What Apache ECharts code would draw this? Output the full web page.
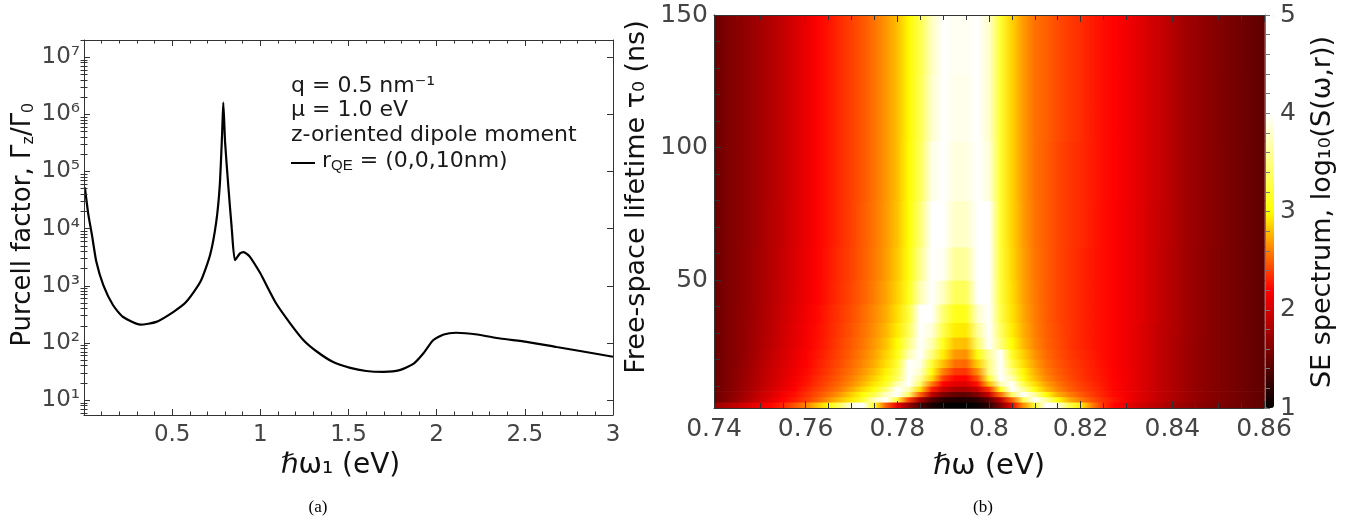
<!DOCTYPE html>
<html>
<head>
<meta charset="utf-8">
<script src="https://cdn.jsdelivr.net/npm/echarts@6/dist/echarts.min.js"></script>
<style>
  html, body { margin: 0; padding: 0; background: #fff; }
  #chart { width: 1362px; height: 521px; }
</style>
</head>
<body>
<div id="chart"></div>
<script>
// (a) Purcell factor vs emitter energy
const omega1 = [0.005, 0.025, 0.045, 0.07, 0.11, 0.165, 0.22, 0.32, 0.41, 0.51,
  0.58, 0.66, 0.715, 0.75, 0.77, 0.783, 0.79, 0.80, 0.818, 0.838,
  0.856, 0.885, 0.905, 0.94, 1.0, 1.02, 1.09, 1.17, 1.245, 1.32,
  1.41, 1.51, 1.60, 1.70, 1.79, 1.87, 1.925, 1.98, 2.04, 2.11,
  2.23, 2.36, 2.51, 2.68, 2.83, 3.0];
const purcell = [5.3e4, 1.74e4, 7800, 2630, 1020, 457, 288, 209, 234, 355,
  525, 1175, 3470, 1.32e4, 5.75e4, 4.4e5, 1.6e6, 3.3e5, 5.75e4, 1.0e4,
  2820, 3700, 3900, 3240, 1660, 1260, 490, 219, 112, 71,
  47, 36.7, 32.4, 31.3, 33.5, 43.6, 66, 112, 141, 151,
  141, 120, 105, 85, 71, 57.5];
const decadeTicks = [10, 100, 1e3, 1e4, 1e5, 1e6, 1e7];
const decadeLabels = ['10¹', '10²', '10³', '10⁴', '10⁵', '10⁶', '10⁷'];

// (b) SE spectrum map, log10 S(w, r); rows go from small to large tau0
const omega = [0.7400, 0.7425, 0.7450, 0.7475, 0.7500, 0.7525, 0.7550, 0.7575, 0.7600, 0.7625,
  0.7650, 0.7675, 0.7700, 0.7725, 0.7750, 0.7775, 0.7800, 0.7825, 0.7850, 0.7875,
  0.7900, 0.7925, 0.7950, 0.7975, 0.8000, 0.8025, 0.8050, 0.8075, 0.8100, 0.8125,
  0.8150, 0.8175, 0.8200, 0.8225, 0.8250, 0.8275, 0.8300, 0.8325, 0.8350, 0.8375,
  0.8400, 0.8425, 0.8450, 0.8475, 0.8500, 0.8525, 0.8550, 0.8575, 0.8600];
const tau = [3, 5, 7, 9, 11, 13, 15.5, 18.5, 22, 26, 31, 37, 45, 55, 70, 90, 115, 140];
const spectrum = [
  [1.72, 1.82, 1.92, 2.03, 2.13, 2.22, 2.32, 2.46, 2.60, 2.80, 3.02, 3.40, 3.90, 4.30, 3.10, 2.50, 2.10, 1.70, 1.35, 1.12, 1.02, 1.00, 1.00, 1.04, 1.20, 1.60, 2.10, 2.65, 3.20, 4.30, 3.90, 3.30, 2.95, 2.60, 2.35, 2.20, 2.10, 2.00, 1.92, 1.85, 1.78, 1.72, 1.67, 1.62, 1.58, 1.55, 1.52, 1.49, 1.46],
  [1.50, 1.61, 1.72, 1.84, 1.96, 2.08, 2.20, 2.28, 2.38, 2.50, 2.65, 2.80, 2.93, 3.20, 3.75, 4.30, 3.20, 2.40, 1.80, 1.40, 1.20, 1.15, 1.15, 1.22, 1.45, 1.90, 2.50, 3.30, 4.20, 3.60, 3.00, 2.75, 2.58, 2.45, 2.34, 2.25, 2.16, 2.06, 1.98, 1.90, 1.83, 1.76, 1.70, 1.65, 1.61, 1.57, 1.53, 1.49, 1.45],
  [1.50, 1.60, 1.70, 1.81, 1.93, 2.04, 2.16, 2.24, 2.34, 2.44, 2.55, 2.68, 2.85, 3.02, 3.30, 3.75, 4.30, 3.40, 2.50, 1.90, 1.60, 1.47, 1.45, 1.60, 1.95, 2.55, 3.40, 4.30, 3.60, 3.00, 2.75, 2.60, 2.48, 2.38, 2.30, 2.22, 2.15, 2.06, 1.98, 1.90, 1.83, 1.76, 1.70, 1.65, 1.61, 1.57, 1.53, 1.49, 1.45],
  [1.50, 1.59, 1.68, 1.78, 1.89, 2.00, 2.10, 2.20, 2.30, 2.39, 2.48, 2.58, 2.72, 2.88, 3.05, 3.45, 4.30, 3.70, 2.90, 2.30, 1.95, 1.82, 1.80, 1.95, 2.35, 3.10, 4.30, 3.60, 3.05, 2.78, 2.62, 2.50, 2.42, 2.35, 2.28, 2.21, 2.14, 2.06, 1.98, 1.90, 1.83, 1.76, 1.70, 1.65, 1.61, 1.57, 1.53, 1.49, 1.45],
  [1.50, 1.59, 1.67, 1.77, 1.87, 1.97, 2.07, 2.17, 2.26, 2.35, 2.44, 2.53, 2.64, 2.78, 2.93, 3.15, 3.70, 4.30, 3.40, 2.60, 2.20, 2.07, 2.05, 2.25, 2.80, 3.70, 4.30, 3.30, 2.90, 2.70, 2.57, 2.47, 2.40, 2.33, 2.27, 2.21, 2.14, 2.06, 1.98, 1.90, 1.83, 1.76, 1.70, 1.65, 1.61, 1.57, 1.53, 1.49, 1.45],
  [1.50, 1.58, 1.66, 1.76, 1.86, 1.96, 2.05, 2.15, 2.24, 2.33, 2.41, 2.50, 2.60, 2.72, 2.86, 3.03, 3.40, 4.30, 3.60, 2.90, 2.40, 2.22, 2.20, 2.45, 3.20, 4.30, 3.70, 3.05, 2.80, 2.63, 2.52, 2.44, 2.37, 2.31, 2.26, 2.20, 2.14, 2.06, 1.98, 1.90, 1.83, 1.76, 1.70, 1.65, 1.61, 1.57, 1.53, 1.49, 1.45],
  [1.50, 1.58, 1.66, 1.75, 1.85, 1.95, 2.04, 2.13, 2.22, 2.30, 2.38, 2.47, 2.56, 2.67, 2.80, 2.96, 3.30, 4.30, 3.80, 3.05, 2.60, 2.38, 2.36, 2.65, 3.50, 4.30, 3.50, 2.98, 2.75, 2.59, 2.49, 2.42, 2.36, 2.30, 2.25, 2.20, 2.14, 2.06, 1.98, 1.90, 1.83, 1.76, 1.70, 1.65, 1.61, 1.57, 1.53, 1.49, 1.45],
  [1.50, 1.58, 1.65, 1.74, 1.84, 1.93, 2.02, 2.11, 2.20, 2.28, 2.36, 2.44, 2.53, 2.63, 2.75, 2.90, 3.20, 4.30, 3.90, 3.20, 2.80, 2.55, 2.52, 2.85, 3.50, 4.30, 3.30, 2.90, 2.70, 2.56, 2.47, 2.40, 2.35, 2.29, 2.24, 2.19, 2.13, 2.06, 1.98, 1.90, 1.83, 1.76, 1.70, 1.65, 1.61, 1.57, 1.53, 1.49, 1.45],
  [1.50, 1.58, 1.65, 1.73, 1.82, 1.91, 2.00, 2.09, 2.18, 2.26, 2.34, 2.42, 2.50, 2.60, 2.71, 2.86, 3.08, 3.70, 4.30, 3.50, 2.95, 2.68, 2.65, 3.05, 3.60, 4.30, 3.15, 2.85, 2.66, 2.53, 2.45, 2.38, 2.33, 2.28, 2.23, 2.19, 2.13, 2.06, 1.98, 1.90, 1.83, 1.76, 1.70, 1.65, 1.61, 1.57, 1.53, 1.49, 1.45],
  [1.50, 1.58, 1.65, 1.72, 1.81, 1.89, 1.98, 2.07, 2.16, 2.24, 2.32, 2.40, 2.48, 2.57, 2.68, 2.81, 3.00, 3.50, 4.30, 3.70, 3.10, 2.82, 2.80, 3.40, 4.30, 3.50, 3.00, 2.78, 2.62, 2.51, 2.44, 2.37, 2.32, 2.27, 2.23, 2.19, 2.13, 2.06, 1.98, 1.90, 1.83, 1.76, 1.70, 1.65, 1.61, 1.57, 1.53, 1.49, 1.45],
  [1.50, 1.58, 1.65, 1.72, 1.80, 1.88, 1.97, 2.06, 2.15, 2.23, 2.31, 2.38, 2.46, 2.55, 2.65, 2.77, 2.94, 3.35, 4.30, 3.85, 3.30, 2.95, 2.93, 3.60, 4.30, 3.40, 2.95, 2.75, 2.60, 2.50, 2.43, 2.37, 2.32, 2.27, 2.23, 2.19, 2.13, 2.06, 1.98, 1.90, 1.84, 1.77, 1.71, 1.66, 1.61, 1.57, 1.53, 1.49, 1.45],
  [1.50, 1.58, 1.65, 1.71, 1.79, 1.87, 1.96, 2.05, 2.14, 2.22, 2.30, 2.37, 2.44, 2.53, 2.63, 2.74, 2.90, 3.25, 4.30, 4.00, 3.45, 3.10, 3.10, 3.80, 4.30, 3.30, 2.92, 2.73, 2.59, 2.49, 2.42, 2.37, 2.32, 2.27, 2.23, 2.19, 2.13, 2.07, 1.99, 1.91, 1.84, 1.77, 1.71, 1.66, 1.61, 1.57, 1.53, 1.49, 1.45],
  [1.50, 1.58, 1.64, 1.71, 1.78, 1.86, 1.94, 2.03, 2.12, 2.20, 2.28, 2.35, 2.42, 2.50, 2.60, 2.71, 2.86, 3.10, 3.70, 4.30, 3.75, 3.35, 3.35, 4.00, 4.30, 3.25, 2.90, 2.71, 2.58, 2.49, 2.42, 2.37, 2.32, 2.27, 2.23, 2.19, 2.13, 2.07, 1.99, 1.91, 1.84, 1.77, 1.71, 1.66, 1.61, 1.57, 1.53, 1.49, 1.45],
  [1.50, 1.58, 1.64, 1.71, 1.78, 1.85, 1.93, 2.02, 2.11, 2.19, 2.27, 2.34, 2.41, 2.49, 2.58, 2.69, 2.83, 3.05, 3.55, 4.30, 3.95, 3.60, 3.60, 4.10, 4.20, 3.22, 2.88, 2.70, 2.57, 2.49, 2.42, 2.37, 2.32, 2.27, 2.23, 2.19, 2.13, 2.07, 1.99, 1.91, 1.84, 1.77, 1.71, 1.66, 1.61, 1.57, 1.53, 1.49, 1.45],
  [1.50, 1.58, 1.64, 1.70, 1.77, 1.85, 1.92, 2.01, 2.10, 2.19, 2.26, 2.33, 2.40, 2.48, 2.57, 2.68, 2.81, 3.01, 3.45, 4.20, 4.10, 3.78, 3.78, 4.30, 4.00, 3.20, 2.87, 2.69, 2.56, 2.49, 2.42, 2.37, 2.33, 2.28, 2.23, 2.19, 2.13, 2.07, 1.99, 1.92, 1.85, 1.77, 1.72, 1.67, 1.62, 1.57, 1.53, 1.49, 1.45],
  [1.50, 1.58, 1.64, 1.70, 1.77, 1.84, 1.91, 2.00, 2.10, 2.19, 2.26, 2.33, 2.40, 2.47, 2.56, 2.67, 2.80, 2.99, 3.35, 3.90, 4.30, 3.88, 3.88, 4.30, 3.85, 3.20, 2.86, 2.68, 2.55, 2.49, 2.42, 2.37, 2.33, 2.28, 2.24, 2.20, 2.14, 2.08, 2.00, 1.93, 1.85, 1.77, 1.72, 1.67, 1.62, 1.57, 1.53, 1.49, 1.45],
  [1.50, 1.58, 1.64, 1.70, 1.77, 1.84, 1.91, 2.00, 2.10, 2.19, 2.26, 2.33, 2.40, 2.47, 2.56, 2.67, 2.80, 2.98, 3.32, 3.80, 4.30, 3.92, 3.92, 4.30, 3.80, 3.20, 2.86, 2.68, 2.55, 2.50, 2.43, 2.38, 2.34, 2.28, 2.24, 2.20, 2.14, 2.08, 2.00, 1.93, 1.85, 1.77, 1.72, 1.67, 1.62, 1.57, 1.53, 1.49, 1.45],
  [1.50, 1.58, 1.64, 1.70, 1.77, 1.84, 1.91, 2.00, 2.10, 2.19, 2.26, 2.33, 2.40, 2.47, 2.56, 2.67, 2.80, 2.98, 3.30, 3.75, 4.30, 3.95, 3.95, 4.30, 3.80, 3.20, 2.86, 2.68, 2.55, 2.50, 2.43, 2.38, 2.34, 2.28, 2.24, 2.20, 2.14, 2.08, 2.00, 1.93, 1.85, 1.77, 1.72, 1.67, 1.62, 1.57, 1.53, 1.49, 1.45]
];
const tauTicks = [50, 100, 150];
const tauMinorTicks = [10, 20, 30, 40, 60, 70, 80, 90, 110, 120, 130, 140];

// colour map, black -> red -> yellow -> white, stops every 0.2 from 1 to 5
const hotColors = ['#000000', '#2b0000', '#550000', '#800000', '#aa0000', '#d50000',
  '#ff0000', '#ff4000', '#ff8000', '#ffbf00', '#ffff00', '#ffff33', '#ffff66',
  '#ffff99', '#ffffcc', '#ffffff', '#ffffff', '#ffffff', '#ffffff', '#ffffff', '#ffffff'];

const X_MIN = 0.74, X_MAX = 0.86, T_MIN = 1.7, T_MAX = 150;

// row borders halfway between sampled lifetimes, clamped to the axis range
const borders = (c, lo, hi) => c.map((v, k) => k === 0 ? lo : (c[k - 1] + v) / 2).concat([hi]);
const tauEdges = borders(tau, T_MIN, T_MAX);

const cells = [];
tau.forEach((t, j) => omega.forEach((w, i) => cells.push([w, t, spectrum[j][i]])));

// minor ticks at 2..9 of each decade
const logMinor = [];
for (let d = 1; d <= 1e6; d *= 10) for (let k = 2; k <= 9; k++) logMinor.push(k * d);
logMinor.push(2e7);

const frame = '#333';
const font = 'DejaVu Sans';
const tick = (len, extra) => Object.assign({ show: true, inside: true, length: len, lineStyle: { color: frame, width: 1 } }, extra || {});
const line = { show: true, onZero: false, lineStyle: { color: frame, width: 1 } };
const noLabel = { show: false };
const noSplit = { show: false };

const chart = echarts.init(document.getElementById('chart'));

chart.setOption({
  animation: false,
  textStyle: { fontFamily: font },
  grid: [
    { left: 84, top: 40, width: 529, height: 375 },
    { left: 714, top: 15, width: 550, height: 393 },
    { left: 1265, top: 15, width: 9, height: 393, show: false }
  ],
  xAxis: [
    { gridIndex: 0, type: 'value', min: 0, max: 3, interval: 0.5, position: 'bottom', z: 5,
      axisLine: line, axisTick: tick(6),
      minorTick: { show: true, splitNumber: 5, length: 3.5, lineStyle: { color: frame } },
      axisLabel: { showMinLabel: false, fontSize: 23, color: '#444', margin: 9 },
      splitLine: noSplit,
      name: 'ℏω₁ (eV)', nameLocation: 'middle', nameGap: 37,
      nameTextStyle: { fontSize: 28, color: '#111', padding: [0, 16, 0, 0] } },
    { gridIndex: 0, type: 'value', min: 0, max: 3, interval: 0.5, position: 'top', z: 5,
      axisLine: line, axisTick: tick(6),
      minorTick: { show: true, splitNumber: 5, length: 3.5, lineStyle: { color: frame } },
      axisLabel: noLabel, splitLine: noSplit },
    { gridIndex: 1, type: 'value', min: X_MIN, max: X_MAX, interval: 0.02, position: 'bottom', z: 5,
      axisLine: line, axisTick: tick(7),
      minorTick: { show: true, splitNumber: 4, length: 5, lineStyle: { color: frame } },
      axisLabel: { fontSize: 25, color: '#444', margin: 9 },
      splitLine: noSplit,
      name: 'ℏω (eV)', nameLocation: 'middle', nameGap: 44,
      nameTextStyle: { fontSize: 29, color: '#111' } },
    { gridIndex: 1, type: 'value', min: X_MIN, max: X_MAX, interval: 0.02, position: 'top', z: 5,
      axisLine: line, axisTick: tick(7),
      minorTick: { show: true, splitNumber: 4, length: 5, lineStyle: { color: frame } },
      axisLabel: noLabel, splitLine: noSplit },
    { gridIndex: 2, type: 'value', min: 0, max: 1, show: false }
  ],
  yAxis: [
    { gridIndex: 0, type: 'log', min: 5.5, max: 2e7, position: 'left', z: 5,
      axisLine: line, axisTick: tick(6, { customValues: decadeTicks }),
      axisLabel: { customValues: decadeTicks, fontSize: 23, color: '#444', margin: 4,
        formatter: v => decadeLabels[Math.round(Math.log10(v)) - 1] },
      splitLine: noSplit },
    { gridIndex: 0, type: 'log', min: 5.5, max: 2e7, position: 'left', z: 5,
      axisLine: { show: false }, axisTick: tick(3.5, { customValues: logMinor }),
      axisLabel: noLabel, splitLine: noSplit },
    { gridIndex: 0, type: 'log', min: 5.5, max: 2e7, position: 'right', z: 5,
      axisLine: line, axisTick: tick(6, { customValues: decadeTicks }),
      axisLabel: noLabel, splitLine: noSplit },
    { gridIndex: 0, type: 'log', min: 5.5, max: 2e7, position: 'right', z: 5,
      axisLine: { show: false }, axisTick: tick(3.5, { customValues: logMinor }),
      axisLabel: noLabel, splitLine: noSplit },
    { gridIndex: 1, type: 'value', min: T_MIN, max: T_MAX, position: 'left', z: 5,
      axisLine: line, axisTick: tick(7, { customValues: tauTicks }),
      axisLabel: { customValues: tauTicks, fontSize: 25, color: '#444', margin: 6 },
      splitLine: noSplit },
    { gridIndex: 1, type: 'value', min: T_MIN, max: T_MAX, position: 'left', z: 5,
      axisLine: { show: false }, axisTick: tick(6, { customValues: tauMinorTicks }),
      axisLabel: noLabel, splitLine: noSplit },
    { gridIndex: 2, type: 'value', min: 1, max: 5, interval: 1, position: 'right', z: 5,
      axisLine: { show: true, lineStyle: { color: '#777' } },
      axisTick: { show: true, inside: false, length: 5, lineStyle: { color: '#777' } },
      minorTick: { show: true, splitNumber: 5, length: 5, lineStyle: { color: '#777' } },
      axisLabel: { fontSize: 25, color: '#444', margin: 6 },
      splitLine: noSplit }
  ],
  visualMap: {
    type: 'continuous', seriesIndex: 1, dimension: 2, min: 1, max: 5,
    calculable: false, orient: 'vertical', left: 1265, top: 15,
    itemWidth: 9, itemHeight: 393, padding: 0, text: null,
    inRange: { color: hotColors }
  },
  series: [
    {
      name: 'purcell', type: 'line', xAxisIndex: 0, yAxisIndex: 0,
      data: omega1.map((w, k) => [w, purcell[k]]),
      showSymbol: false, smooth: 0.2,
      lineStyle: { color: '#000', width: 2.2 }
    },
    {
      name: 'spectrum', type: 'custom', xAxisIndex: 2, yAxisIndex: 4, z: 1,
      data: cells, encode: { x: 0, y: 1 }, silent: true,
      renderItem: (params, api) => {
        const idx = params.dataIndexInside;
        const i = params.dataIndex % omega.length;
        const j = Math.floor(params.dataIndex / omega.length);
        if (i === omega.length - 1) return null;
        // shade from this sample to the next one along the energy axis
        const p0 = api.coord([omega[i], tauEdges[j + 1]]);
        const p1 = api.coord([omega[i + 1], tauEdges[j]]);
        const c0 = api.visual('color');
        const c1 = api.visual('color', idx + 1);
        return {
          type: 'rect',
          shape: { x: p0[0], y: p0[1], width: p1[0] - p0[0] + 0.8, height: p1[1] - p0[1] + 0.6 },
          style: { fill: new echarts.graphic.LinearGradient(p0[0], 0, p1[0], 0, [
            { offset: 0, color: c0 }, { offset: 1, color: c1 }], true) }
        };
      }
    }
  ],
  graphic: [
    { type: 'text', x: 291, y: 86, style: { text: 'q = 0.5 nm⁻¹', fontSize: 22, fontFamily: font, fill: '#1a1a1a', verticalAlign: 'middle' } },
    { type: 'text', x: 291, y: 110, style: { text: 'μ = 1.0 eV', fontSize: 22, fontFamily: font, fill: '#1a1a1a', verticalAlign: 'middle' } },
    { type: 'text', x: 291, y: 135, style: { text: 'z-oriented dipole moment', fontSize: 22, fontFamily: font, fill: '#1a1a1a', verticalAlign: 'middle' } },
    { type: 'line', shape: { x1: 291, y1: 163, x2: 315, y2: 163 }, style: { stroke: '#000', lineWidth: 2 } },
    { type: 'text', x: 322, y: 161, style: { text: 'r{s|QE} = (0,0,10nm)', fontSize: 22, fontFamily: font, fill: '#1a1a1a', verticalAlign: 'middle',
      rich: { s: { fontSize: 15, padding: [10, 0, 0, 0] } } } },

    { type: 'text', x: 1037, y: 58, style: { text: 'ℏω₁ = 0.8 eV', fontSize: 21, fontFamily: font, fill: '#fff', verticalAlign: 'middle' } },
    { type: 'text', x: 1037, y: 84, style: { text: 'μ = 1.0 eV', fontSize: 21, fontFamily: font, fill: '#fff', verticalAlign: 'middle' } },
    { type: 'text', x: 1037, y: 111, style: { text: 'q = 0.5 nm⁻¹', fontSize: 21, fontFamily: font, fill: '#fff', verticalAlign: 'middle' } },
    { type: 'text', x: 1037, y: 138, style: { text: 'r{s|QE} = (0,0,10.0nm)', fontSize: 21, fontFamily: font, fill: '#fff', verticalAlign: 'middle',
      rich: { s: { fontSize: 14, padding: [9, 0, 0, 0] } } } },

    { type: 'text', x: 23, y: 225, rotation: Math.PI / 2,
      style: { text: 'Purcell factor, Γ{s|z}/Γ{s|0}', fontSize: 26, fontFamily: font, fill: '#111', align: 'center', verticalAlign: 'middle',
        rich: { s: { fontSize: 17, padding: [10, 0, 0, 0] } } } },
    { type: 'text', x: 637, y: 197, rotation: Math.PI / 2,
      style: { text: 'Free-space lifetime τ₀ (ns)', fontSize: 27, fontFamily: font, fill: '#111', align: 'center', verticalAlign: 'middle' } },
    { type: 'text', x: 1323, y: 212, rotation: Math.PI / 2,
      style: { text: 'SE spectrum, log₁₀(S(ω,r))', fontSize: 27, fontFamily: font, fill: '#111', align: 'center', verticalAlign: 'middle' } },

    { type: 'text', x: 318, y: 508, style: { text: '(a)', fontSize: 17, fontFamily: 'Liberation Serif', fill: '#000', align: 'center', verticalAlign: 'middle' } },
    { type: 'text', x: 983, y: 508, style: { text: '(b)', fontSize: 17, fontFamily: 'Liberation Serif', fill: '#000', align: 'center', verticalAlign: 'middle' } }
  ]
});

window.addEventListener('resize', () => chart.resize());
</script>
</body>
</html>
